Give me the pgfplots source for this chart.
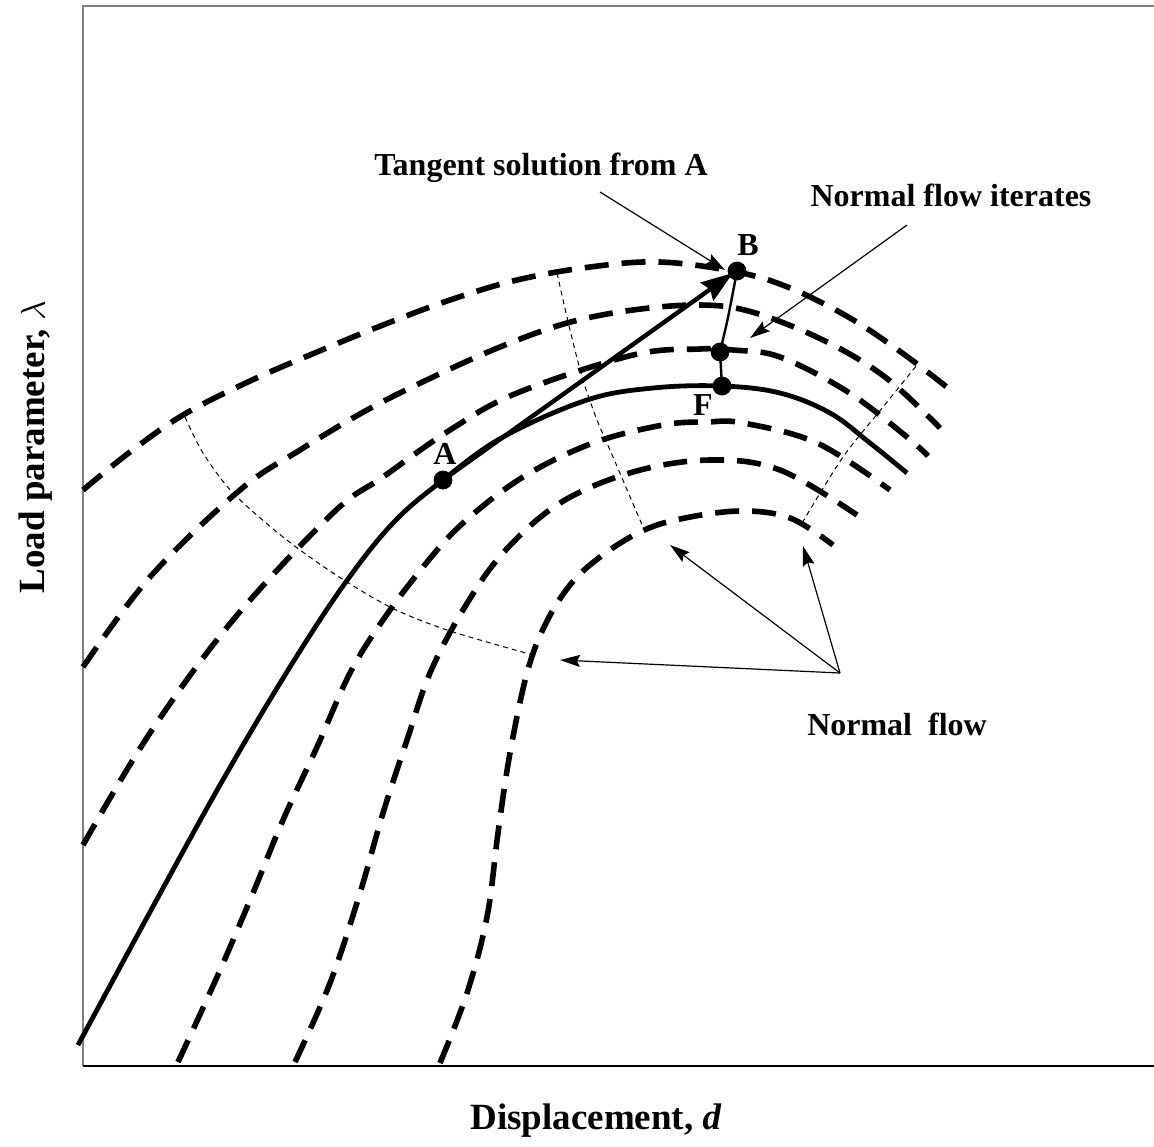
\documentclass[border=0pt]{standalone}
\usepackage{fontspec}
\setmainfont{Liberation Serif}
\usepackage{pgfplots}
\pgfplotsset{compat=1.18}
\usetikzlibrary{arrows.meta}

\tikzset{
  bigdash/.style={line width=2.8pt, dash pattern=on 12pt off 6.5pt},
  thindash/.style={line width=0.5pt, dash pattern=on 2.5pt off 2pt},
  note/.style={line width=0.6pt, -{Stealth[length=10pt,width=6pt,inset=1.5pt]}},
  lab/.style={font=\bfseries\fontsize{16}{19}\selectfont},
}

\begin{document}
\begin{tikzpicture}
\begin{axis}[
  x=0.5pt, y=0.5pt, y dir=reverse,
  xmin=83, xmax=1154, ymin=6, ymax=1066,
  hide axis,
  clip=false,
]
% frame
\draw[gray, line width=0.6pt] (axis cs:83,1066) -- (axis cs:83,6) -- (axis cs:1154,6);
\draw[black, line width=1pt] (axis cs:83,1066) -- (axis cs:1154,1066);

% equilibrium path
\addplot[black, line width=2.4pt, smooth, tension=0.6] coordinates {
  (78,1045) (150,912) (220,785) (285,675) (343,586) (393,523) (443,480)
  (503,437) (587,400) (653,388) (722,386) (780,393) (830,413) (870,443) (907,473)
};

% flow lines, upper
\addplot[bigdash, smooth, tension=0.6] coordinates {
  (83,490) (130,452) (183,415) (250,381) (317,352) (383,325) (450,300)
  (517,280) (590,267) (660,262) (737,272) (790,288) (850,318) (905,355) (953,392)
};
\addplot[bigdash, smooth, tension=0.6] coordinates {
  (83,667) (150,577) (240,490) (300,450) (367,410) (433,377) (500,347)
  (567,323) (633,310) (700,305) (752,312) (823,340) (885,377) (940,428)
};
\addplot[bigdash, smooth, tension=0.6] coordinates {
  (83,845) (150,733) (233,620) (333,513) (383,477) (450,430) (517,393)
  (633,355) (700,349) (733,350) (780,357) (848,392) (907,437) (928,456)
};

% flow lines, lower
\addplot[bigdash, smooth, tension=0.6] coordinates {
  (178,1062) (217,977) (253,893) (283,820) (317,747) (350,673) (383,620)
  (423,567) (463,523) (523,477) (593,443) (663,425) (707,422) (743,423)
  (817,443) (890,490)
};
\addplot[bigdash, smooth, tension=0.6] coordinates {
  (295,1062) (330,983) (360,893) (383,813) (407,740) (430,673) (463,610)
  (503,553) (560,503) (633,472) (710,460) (780,470) (857,515)
};
\addplot[bigdash, smooth, tension=0.6] coordinates {
  (440,1063) (467,993) (487,917) (498,833) (510,753) (527,673) (545,625)
  (570,585) (600,557) (640,532) (680,519) (740,511) (790,518) (833,545)
};

% normal flow (thin dashed)
\addplot[thindash, smooth] coordinates {
  (185,417) (203,453) (233,493) (283,537) (333,573) (390,607) (447,630) (533,655)
};
\addplot[thindash, smooth] coordinates {
  (557,273) (570,330) (583,380) (597,420) (610,450) (625,485) (643,527)
};
\addplot[thindash, smooth] coordinates {
  (802,523) (843,457) (883,407) (917,365)
};

% tangent predictor and corrector iterates
\addplot[black, line width=2.2pt, -{Stealth[length=16pt,width=11pt,inset=2pt]}] coordinates {
  (443,480) (733,273)
};
\addplot[black, line width=1.2pt, smooth] coordinates {
  (737,271) (732,297) (727,322) (720,352)
};
\addplot[black, line width=1.2pt] coordinates {
  (720,352) (722,386)
};
\addplot[only marks, mark=*, mark size=4.5pt, black] coordinates {
  (443,480) (737,271) (720,352) (722,386)
};

% annotations
\draw[note] (axis cs:600,192) -- (axis cs:725,270);
\draw[note] (axis cs:907,225) -- (axis cs:750,338);
\draw[note] (axis cs:840,673) -- (axis cs:560,660);
\draw[note] (axis cs:840,673) -- (axis cs:670,545);
\draw[note] (axis cs:840,673) -- (axis cs:803,546);

\node[lab] at (axis cs:541,168) {Tangent solution from A};
\node[lab] at (axis cs:951,195) {Normal flow iterates};
\node[lab] at (axis cs:897,724) {Normal\ \ flow};
\node[lab] at (axis cs:445,454) {A};
\node[lab] at (axis cs:748,245) {B};
\node[lab] at (axis cs:703,405) {F};

\node[font=\bfseries\fontsize{18.5}{22}\selectfont, rotate=90] at (axis cs:36,447) {Load parameter, $\lambda$};
\node[font=\bfseries\fontsize{18.5}{22}\selectfont] at (axis cs:596,1121) {Displacement, \textit{d}};

\coordinate (bbll) at (axis cs:0,1146);
\coordinate (bbur) at (axis cs:1154,0);
\end{axis}
\pgfresetboundingbox
\path (bbll) rectangle (bbur);
\end{tikzpicture}
\end{document}
